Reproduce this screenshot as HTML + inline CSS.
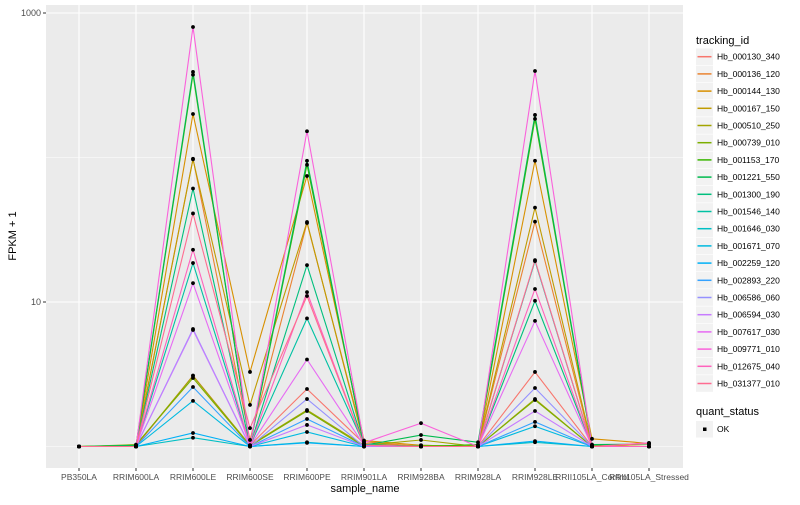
<!DOCTYPE html>
<html><head><meta charset="utf-8">
<style>
body{margin:0;background:#fff;font-family:"Liberation Sans",sans-serif;}
svg text{font-family:"Liberation Sans",sans-serif;}
</style></head>
<body>
<svg id="chart" width="800" height="500" viewBox="0 0 800 500" xmlns="http://www.w3.org/2000/svg">
<rect x="0" y="0" width="800" height="500" fill="#fff"/>
<rect x="46" y="5" width="637" height="463" fill="#EBEBEB"/>
<g id="grid"></g>
<g id="series"></g>
<g id="points"></g>
<g id="axes"></g>
<g id="legend"></g>
<text transform="translate(16,236) rotate(-90)" text-anchor="middle" font-size="11" fill="#000">FPKM + 1</text>
<text x="365" y="492" text-anchor="middle" font-size="11" fill="#000">sample_name</text>
</svg>
<script>
const categories = ["PB350LA","RRIM600LA","RRIM600LE","RRIM600SE","RRIM600PE","RRIM901LA","RRIM928BA","RRIM928LA","RRIM928LE","RRII105LA_Control","RRII105LA_Stressed"];
const seriesNames = ["Hb_000130_340","Hb_000136_120","Hb_000144_130","Hb_000167_150","Hb_000510_250","Hb_000739_010","Hb_001153_170","Hb_001221_550","Hb_001300_190","Hb_001546_140","Hb_001646_030","Hb_001671_070","Hb_002259_120","Hb_002893_220","Hb_006586_060","Hb_006594_030","Hb_007617_030","Hb_009771_010","Hb_012675_040","Hb_031377_010"];
const colors = ["#F8766D","#EA8331","#D89000","#C09B00","#A3A500","#7CAE00","#39B600","#00BB4E","#00BF7D","#00C1A3","#00BFC4","#00BAE0","#00B0F6","#35A2FF","#9590FF","#C77CFF","#E76BF3","#FA62DB","#FF62BC","#FF6C91"];
const s0  = [1,1,3.1,1.02,2.5,1.05,1,1,3.28,1,1];
const s1  = [1,1,98,1.11,35.2,1.08,1,1,36,1,1];
const s2  = [1,1,200,3.28,74.5,1.1,1.02,1,95,1.13,1.05];
const s3  = [1,1,97,1.94,35.8,1.04,1,1,45,1.02,1];
const s4  = [1,1.02,3.08,1.02,1.79,1.02,1.11,1,2.13,1,1];
const s5  = [1,1.03,2.98,1.01,1.76,1,1.02,1,2.1,1,1];
const s6  = [1,1.01,374,1.02,89,1.03,1,1.03,185,1.02,1.04];
const s7  = [1,1.02,391,1.02,95,1.02,1.2,1.07,197,1.03,1.04];
const s8  = [1,1,61,1.01,18,1.02,1,1,10.2,1,1];
const s9  = [1,1,18.6,1.01,7.7,1.03,1,1,19.2,1,1];
const s10 = [1,1,1.15,1,1.07,1,1,1,1.07,1,1];
const s11 = [1,1,2.07,1,1.26,1,1,1,1.38,1,1];
const s12 = [1,1,1.24,1,1.06,1,1,1,1.09,1,1];
const s13 = [1,1,2.58,1,1.55,1,1,1,1.48,1,1];
const s14 = [1,1,6.5,1,2.13,1,1,1,2.54,1,1];
const s15 = [1,1,6.4,1,1.41,1,1,1,1.76,1,1];
const s16 = [1,1,13.5,1.01,4.0,1.02,1,1,7.4,1,1];
const s17 = [1,1,800,1.01,152,1.06,1.45,1,397,1,1.06];
const s18 = [1,1,23,1.01,11.7,1.02,1,1,12.3,1,1];
const s19 = [1,1,41,1.34,11,1.02,1,1,19.5,1,1.05];
const seriesValues = [s0,s1,s2,s3,s4,s5,s6,s7,s8,s9,s10,s11,s12,s13,s14,s15,s16,s17,s18,s19];
const yTickValues = [1000,10];
const yTickLabels = ["1000","10"];
const yGridValues = [1,10,100,1000];

const NS="http://www.w3.org/2000/svg";
function mk(tag, attrs, parent){const e=document.createElementNS(NS,tag);for(const k in attrs)e.setAttribute(k,attrs[k]);parent.appendChild(e);return e;}
const xScale = i => 79 + i*57;
const yScale = v => 446.5 - Math.log10(v)*144.5;

const grid=document.getElementById('grid');
yGridValues.forEach(v=>{
  const l=mk('line',{x1:46,x2:683,y1:yScale(v),y2:yScale(v),stroke:'#fff','stroke-width':(v===10||v===1000)?1.1:0.6},grid);
  
  
});
categories.forEach((c,i)=>{
  const l=mk('line',{x1:xScale(i),x2:xScale(i),y1:5,y2:468,stroke:'#fff','stroke-width':1.1},grid);
  
  
});

const axes=document.getElementById('axes');
yTickValues.forEach((v,i)=>{
  const y=yScale(v);
  const t=mk('line',{x1:43,x2:46,y1:y,y2:y,stroke:'#333','stroke-width':1},axes);
  
  
  const tx=mk('text',{x:41,y:y+3,'text-anchor':'end','font-size':9,fill:'#4D4D4D'},axes);
  tx.textContent=yTickLabels[i];
  
  
});
categories.forEach((c,i)=>{
  const x=xScale(i);
  const t=mk('line',{x1:x,x2:x,y1:468,y2:471,stroke:'#333','stroke-width':1},axes);
  
  
  const tx=mk('text',{x:x,y:480,'text-anchor':'middle','font-size':8.5,fill:'#4D4D4D'},axes);
  tx.textContent=c;
  
  
});

const sg=document.getElementById('series');
const pg=document.getElementById('points');
seriesValues.forEach((vals,si)=>{
  const d=vals.map((v,i)=>(i?'L':'M')+xScale(i).toFixed(1)+','+yScale(v).toFixed(1)).join(' ');
  const p=mk('path',{d:d,fill:'none',stroke:colors[si],'stroke-width':1.1},sg);
  
  
});
seriesValues.forEach((vals,si)=>{
  vals.forEach((v,i)=>{
    const c=mk('circle',{cx:xScale(i),cy:yScale(v),r:1.9,fill:'#000'},pg);
    
    
  });
});

const lg=document.getElementById('legend');
const lt=mk('text',{x:696,y:44,'font-size':11,fill:'#000'},lg);
lt.textContent='tracking_id';


seriesNames.forEach((n,i)=>{
  const cy=56.7+i*17.2;
  const g=mk('g',{},lg);
  
  
  mk('rect',{x:696,y:cy-8.3,width:17,height:16.6,fill:'#F2F2F2'},g);
  mk('line',{x1:697.5,x2:711.5,y1:cy,y2:cy,stroke:colors[i],'stroke-width':1.5},g);
  const t=mk('text',{x:717,y:cy+3,'font-size':8.5,fill:'#000'},g);
  t.textContent=n;
});
const qt=mk('text',{x:696,y:415,'font-size':11,fill:'#000'},lg);
qt.textContent='quant_status';


const qg=mk('g',{},lg);


mk('rect',{x:696,y:421,width:17,height:16.6,fill:'#F2F2F2'},qg);
mk('rect',{x:703,y:427.5,width:3.5,height:3.5,fill:'#000'},qg);
const ok=mk('text',{x:717,y:432,'font-size':8.5,fill:'#000'},qg);
ok.textContent='OK';
</script>
</body></html>
